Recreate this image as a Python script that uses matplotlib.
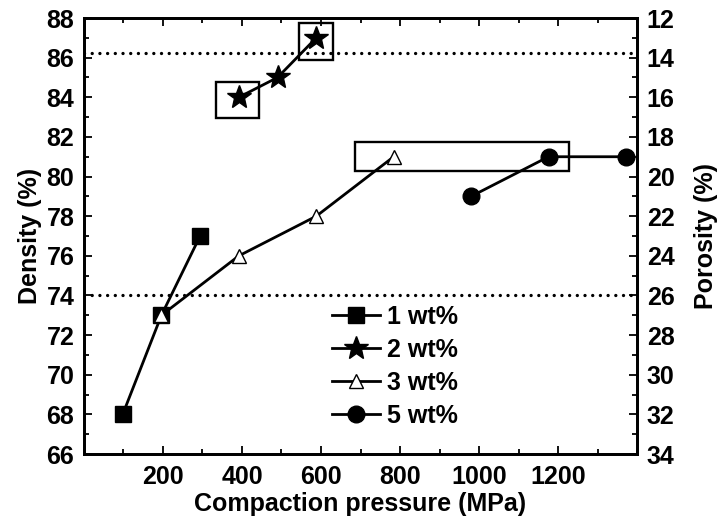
import matplotlib
matplotlib.use("Agg")
import matplotlib.pyplot as plt
from matplotlib.patches import Rectangle
from matplotlib.ticker import MultipleLocator, FixedLocator

plt.rcParams['font.family'] = ['Liberation Sans', 'DejaVu Sans']
plt.rcParams['font.weight'] = 'bold'

# data
p1 = [98, 196, 294]
d1 = [68, 73, 77]
p2 = [392, 490, 588]
d2 = [84, 85, 87]
p3 = [196, 392, 588, 784]
d3 = [73, 76, 78, 81]
p5 = [980, 1176, 1372]
d5 = [79, 81, 81]
labels = ["1 wt%", "2 wt%", "3 wt%", "5 wt%"]
ref_lines = [86.25, 74]
xticks = [200, 400, 600, 800, 1000, 1200]
# highlight boxes (x0, y0, x1, y1) in data units
boxes = [(333, 82.93, 443, 84.78), (545, 85.88, 630, 87.76), (686, 80.27, 1228, 81.72)]

fig = plt.figure(figsize=(7.21, 5.25), dpi=100)
ax = fig.add_axes([0.1165, 0.1352, 0.7670, 0.8305])

fs = 18
for y in ref_lines:
    ax.axhline(y, color='black', lw=2.4, linestyle=(0, (0.01, 2.3)), dash_capstyle='round', zorder=1)

ax.plot(p1, d1, '-', color='black', lw=2, marker='s', ms=12, mfc='black', mec='black', label=labels[0], zorder=3)
ax.plot(p2, d2, '-', color='black', lw=2, marker='*', ms=18, mfc='black', mec='black', label=labels[1], zorder=3)
ax.plot(p3, d3, '-', color='black', lw=2, marker='^', ms=10, mfc='white', mec='black', mew=1, label=labels[2], zorder=4)
ax.plot(p5, d5, '-', color='black', lw=2, marker='o', ms=12, mfc='black', mec='black', label=labels[3], zorder=3)

for (x0, y0, x1, y1) in boxes:
    ax.add_patch(Rectangle((x0, y0), x1 - x0, y1 - y0, fill=False, ec='black', lw=1.7, zorder=2))

ax.set_xlim(0, 1400)
ax.set_ylim(66, 88)
ax.xaxis.set_major_locator(FixedLocator(xticks))
ax.xaxis.set_minor_locator(MultipleLocator(100))
ax.yaxis.set_major_locator(MultipleLocator(2))
ax.yaxis.set_minor_locator(MultipleLocator(1))
ax.tick_params(which='both', direction='in', width=1.3, labelsize=fs)
ax.tick_params(which='major', length=6)
ax.tick_params(which='minor', length=3.5)
ax.tick_params(axis='x', which='both', top=True, labeltop=False, pad=8)
ax.tick_params(axis='y', which='both', right=False, pad=7)
for s in ax.spines.values():
    s.set_linewidth(2)

ax.set_xlabel("Compaction pressure (MPa)", fontsize=fs, fontweight='bold', labelpad=2)
ax.set_ylabel("Density (%)", fontsize=fs, fontweight='bold', labelpad=3)

ax2 = ax.twinx()
ax2.set_ylim(100 - 66, 100 - 88)
ax2.yaxis.set_major_locator(MultipleLocator(2))
ax2.yaxis.set_minor_locator(MultipleLocator(1))
ax2.tick_params(which='both', direction='in', width=1.3, labelsize=fs, pad=7)
ax2.tick_params(which='major', length=6)
ax2.tick_params(which='minor', length=3.5)
ax2.set_ylabel("Porosity (%)", fontsize=fs, fontweight='bold', labelpad=14)
for s in ax2.spines.values():
    s.set_linewidth(2)

for lab in ax.get_xticklabels() + ax.get_yticklabels() + ax2.get_yticklabels():
    lab.set_fontweight('bold')

leg = ax.legend(loc='upper left', bbox_to_anchor=(0.4485, 0.342), frameon=False,
                handlelength=1.92, handletextpad=0.28, labelspacing=0.36,
                borderpad=0, borderaxespad=0, prop={'weight': 'bold', 'size': fs})

fig.savefig("out.png", dpi=100)
